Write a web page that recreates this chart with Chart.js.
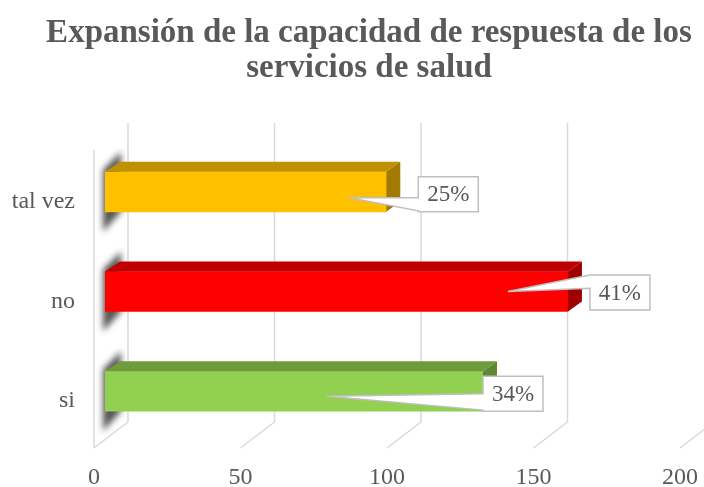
<!DOCTYPE html>
<html>
<head>
<meta charset="utf-8">
<script src="https://cdn.jsdelivr.net/npm/chart.js@4.4.1/dist/chart.umd.min.js"></script>
<style>
    html, body { margin: 0; padding: 0; background: #fff; }
</style>
</head>
<body>
<canvas id="capacidad" width="704" height="487"></canvas>
<script>
// data
const categories = ['tal vez', 'no', 'si'];
const counts = [96, 158, 129];
const xTicks = [0, 50, 100, 150, 200];
const chartTitle = ['Expansión de la capacidad de respuesta de los', 'servicios de salud'];

// styling
const frontColors = ['#FFC000', '#FF0000', '#92D050'];
const topColors = ['#BF9000', '#C00000', '#6F9B3C'];
const sideColors = ['#A37A00', '#A00000', '#5E8831'];
const textGray = '#595959';
const gridGray = '#D9D9D9';
const serif = '"Liberation Serif", "Times New Roman", serif';

// callout placement (px, relative to the end / centre of each bar)
const calloutTip = [[-37, 6], [-60, 0], [-156, 5]];
const calloutBox = [[32, 2.5], [22, 1], [0, 2.5]];
const calloutBase = [[0.6, 0.97], [0, 0.38], [0.5, 0.97]];

const DEPTH_X = 14, DEPTH_Y = 10;

const total = counts.reduce((a, b) => a + b, 0);

const fake3d = {
    id: 'fake3d',
    beforeDatasetsDraw(chart) {
        const ctx = chart.ctx;
        const xs = chart.scales.x;
        const area = chart.chartArea;
        const floorFront = area.bottom + 7;
        const floorBack = area.bottom - 19;
        const wallTop = area.top - 19;

        ctx.save();
        ctx.strokeStyle = gridGray;
        ctx.lineWidth = 1.5;
        ctx.beginPath();
        xTicks.forEach(v => {
            const px = xs.getPixelForValue(v);
            ctx.moveTo(px - 11, floorFront);
            ctx.lineTo(px + 23, floorBack);
            ctx.lineTo(px + 23, wallTop);
        });
        const x0 = xs.getPixelForValue(0);
        ctx.moveTo(x0 - 11, area.top + 8);
        ctx.lineTo(x0 - 11, floorFront);
        ctx.stroke();
        ctx.restore();

        // smudgy shadow on the left end of each bar
        const meta = chart.getDatasetMeta(0);
        ctx.save();
        ctx.filter = 'blur(3px)';
        ctx.fillStyle = 'rgba(30,30,30,0.75)';
        meta.data.forEach(bar => {
            const top = bar.y - bar.height / 2;
            const bottom = bar.y + bar.height / 2;
            const b = bar.base;
            ctx.beginPath();
            ctx.moveTo(b - 2, top - 2);
            ctx.lineTo(b + 16, top - 20);
            ctx.lineTo(b + 16, bottom);
            ctx.lineTo(b - 2, bottom + 20);
            ctx.closePath();
            ctx.fill();
        });
        ctx.restore();
    },
    afterDatasetsDraw(chart) {
        const ctx = chart.ctx;
        const meta = chart.getDatasetMeta(0);
        ctx.save();
        meta.data.forEach((bar, i) => {
            const top = bar.y - bar.height / 2;
            const bottom = bar.y + bar.height / 2;
            const b = bar.base, e = bar.x;

            ctx.fillStyle = topColors[i];
            ctx.beginPath();
            ctx.moveTo(b, top);
            ctx.lineTo(b + DEPTH_X + 1, top - DEPTH_Y);
            ctx.lineTo(e + DEPTH_X, top - DEPTH_Y);
            ctx.lineTo(e, top);
            ctx.closePath();
            ctx.fill();

            ctx.fillStyle = sideColors[i];
            ctx.beginPath();
            ctx.moveTo(e, top);
            ctx.lineTo(e + DEPTH_X, top - DEPTH_Y);
            ctx.lineTo(e + DEPTH_X, bottom - DEPTH_Y);
            ctx.lineTo(e, bottom);
            ctx.closePath();
            ctx.fill();
        });

        // callout labels with percentages
        const w = 60, h = 35;
        meta.data.forEach((bar, i) => {
            const bx = bar.x + calloutBox[i][0];
            const by = bar.y + calloutBox[i][1] - h / 2;
            const tx = bar.x + calloutTip[i][0];
            const ty = bar.y + calloutTip[i][1];
            const b1 = by + h * calloutBase[i][0];
            const b2 = by + h * calloutBase[i][1];

            ctx.beginPath();
            ctx.moveTo(bx, by);
            ctx.lineTo(bx + w, by);
            ctx.lineTo(bx + w, by + h);
            ctx.lineTo(bx, by + h);
            ctx.lineTo(bx, b2);
            ctx.lineTo(tx, ty);
            ctx.lineTo(bx, b1);
            ctx.closePath();
            ctx.fillStyle = '#FFFFFF';
            ctx.fill();
            ctx.strokeStyle = '#BFBFBF';
            ctx.lineWidth = 1.5;
            ctx.stroke();

            ctx.fillStyle = textGray;
            ctx.font = '23px ' + serif;
            ctx.textAlign = 'center';
            ctx.textBaseline = 'middle';
            const pct = Math.round(counts[i] / total * 100) + '%';
            ctx.fillText(pct, bx + w / 2, by + h / 2 + 1);
        });
        ctx.restore();
    },
    afterDraw(chart) {
        // title, centred a little right of the canvas middle like the original
        const ctx = chart.ctx;
        ctx.save();
        ctx.fillStyle = textGray;
        ctx.font = 'bold 33px ' + serif;
        ctx.textAlign = 'center';
        ctx.textBaseline = 'alphabetic';
        ctx.fillText(chartTitle[0], 369, 42);
        ctx.fillText(chartTitle[1], 369, 77);
        ctx.restore();
    }
};

new Chart(document.getElementById('capacidad'), {
    type: 'bar',
    data: {
        labels: categories,
        datasets: [{
            data: counts,
            backgroundColor: frontColors,
            borderWidth: 0,
            barThickness: 40
        }]
    },
    options: {
        indexAxis: 'y',
        responsive: false,
        animation: false,
        layout: {
            padding: { left: 0, right: 13, top: 142, bottom: 0 }
        },
        plugins: {
            legend: { display: false },
            tooltip: { enabled: false },
            title: { display: false }
        },
        scales: {
            x: {
                min: 0,
                max: 200,
                grid: { display: false },
                border: { display: false },
                ticks: {
                    stepSize: 50,
                    autoSkip: false,
                    maxRotation: 0,
                    labelOffset: -11,
                    padding: 14,
                    color: textGray,
                    font: { family: serif, size: 24 }
                },
                afterFit(scale) {
                    scale.height = 46;
                    scale.paddingLeft = 0;
                    scale.paddingRight = 0;
                }
            },
            y: {
                grid: { display: false },
                border: { display: false },
                ticks: {
                    labelOffset: 10,
                    padding: 22,
                    color: textGray,
                    font: { family: serif, size: 24 }
                },
                afterFit(scale) {
                    scale.width = 105;
                    scale.paddingTop = 0;
                    scale.paddingBottom = 0;
                }
            }
        }
    },
    plugins: [fake3d]
});
</script>
</body>
</html>
